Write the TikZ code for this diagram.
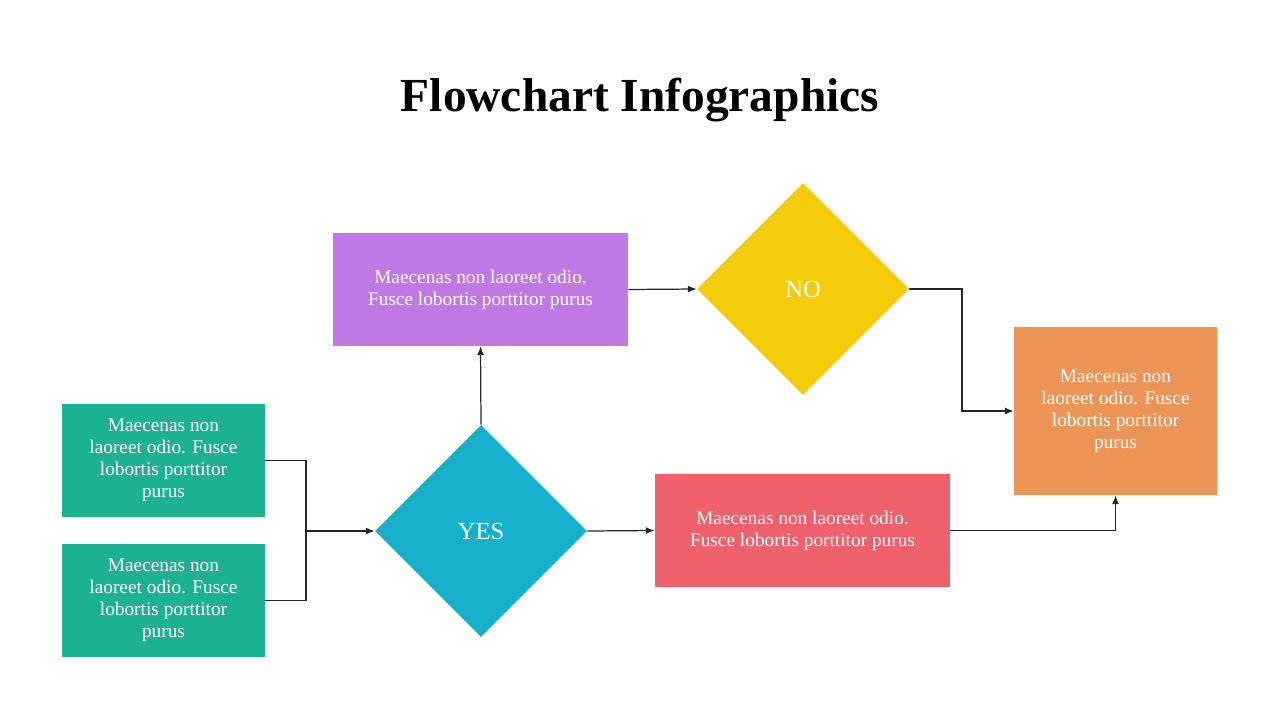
\documentclass[tikz,border=0pt]{standalone}
\usepackage{fontspec}
\setmainfont{Liberation Serif}
\usetikzlibrary{shapes.geometric,arrows.meta}
\definecolor{cpurple}{HTML}{C078E4}
\definecolor{cyellow}{HTML}{F5CC0A}
\definecolor{corange}{HTML}{EC9557}
\definecolor{cgreen}{HTML}{1AB291}
\definecolor{cteal}{HTML}{16B0CB}
\definecolor{cred}{HTML}{EF626C}
\tikzset{
  box/.style={rectangle, text=white, align=center, inner sep=2pt,
    font=\fontsize{11}{12.5}\selectfont},
  decision/.style={diamond, text=white, inner sep=0pt, minimum width=4.24cm,
    minimum height=4.24cm, font=\fontsize{14}{16}\selectfont},
  link/.style={draw=black!85, line width=0.7pt, -{Latex[length=5pt,width=4pt]}}
}
\begin{document}
\begin{tikzpicture}[x=0.02cm,y=-0.02cm]
\useasboundingbox (0,0) rectangle (1280,720);
% title
\node (title) at (640,100) {\fontsize{27}{30}\selectfont\bfseries Flowchart Infographics};
% boxes
\node[box, fill=cpurple, minimum width=5.9cm, minimum height=2.26cm] (idea) at (480.5,289.5)
  {Maecenas non laoreet odio.\\Fusce lobortis porttitor purus};
\node[decision, fill=cyellow] (no) at (803,289) {NO};
\node[box, fill=corange, minimum width=4.06cm, minimum height=3.36cm] (result) at (1115.5,411)
  {Maecenas non\\laoreet odio. Fusce\\lobortis porttitor\\purus};
\node[box, fill=cgreen, minimum width=4.06cm, minimum height=2.26cm] (inA) at (163.5,460.5)
  {Maecenas non\\laoreet odio. Fusce\\lobortis porttitor\\purus};
\node[box, fill=cgreen, minimum width=4.06cm, minimum height=2.26cm] (inB) at (163.5,600.5)
  {Maecenas non\\laoreet odio. Fusce\\lobortis porttitor\\purus};
\node[decision, fill=cteal] (yes) at (481,531) {YES};
\node[box, fill=cred, minimum width=5.9cm, minimum height=2.26cm] (act) at (802.5,530.5)
  {Maecenas non laoreet odio.\\Fusce lobortis porttitor purus};
% connectors
\coordinate (join) at (306,531);
\draw[line width=0.7pt, draw=black!85] (inA.east) -| (join);
\draw[line width=0.7pt, draw=black!85] (inB.east) -| (join);
\draw[link] (join) -- (yes.west);
\draw[link] (yes.north) -- (idea.south);
\draw[link] (idea.east) -- (no.west);
\draw[link] (no.east) -- (962,289) |- (result.west);
\draw[link] (yes.east) -- (act.west);
\draw[link] (act.east) -| (result.south);
\end{tikzpicture}
\end{document}
